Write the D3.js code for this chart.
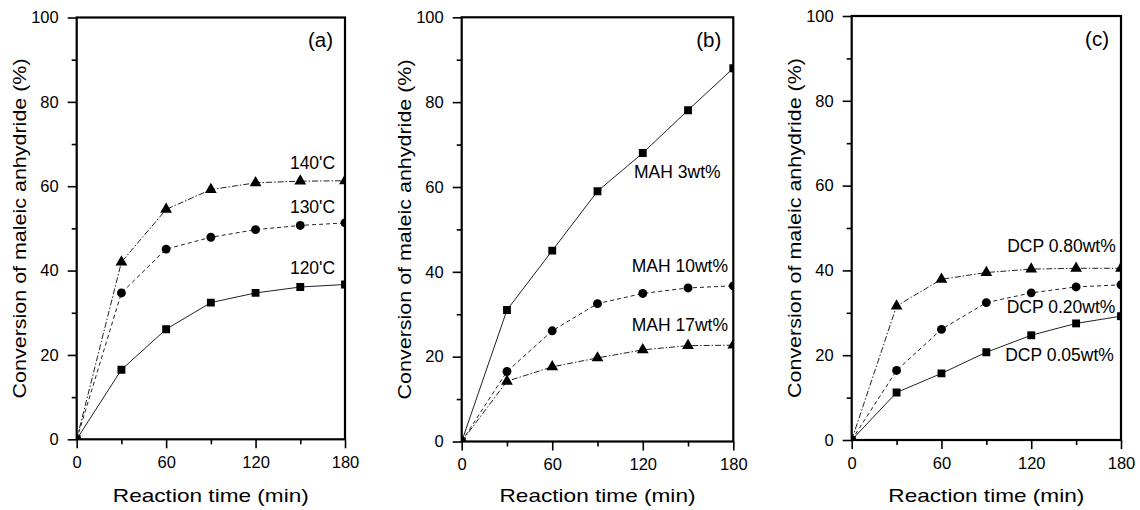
<!DOCTYPE html>
<html>
<head>
<meta charset="utf-8">
<script src="https://cdn.jsdelivr.net/npm/d3@7"></script>
<style>
  body { margin: 0; background: #fff; }
  text { font-family: "Liberation Sans", Arial, sans-serif; fill: #000; }
</style>
</head>
<body>
<svg id="chart" width="1140" height="510"></svg>
<script>
// reaction time (min)
var times = [0, 30, 60, 90, 120, 150, 180];

// (a) temperature series
var temp120 = [0, 16.5, 26.1, 32.4, 34.7, 36.1, 36.7];
var temp130 = [0, 34.7, 45.1, 47.9, 49.7, 50.7, 51.3];
var temp140 = [0, 42.0, 54.5, 59.2, 60.8, 61.2, 61.3];

// (b) MAH content series
var mah3  = [0, 31.0, 45.0, 59.0, 68.0, 78.1, 88.0];
var mah10 = [0, 16.5, 26.1, 32.5, 34.9, 36.2, 36.7];
var mah17 = [0, 14.2, 17.6, 19.7, 21.6, 22.6, 22.7];

// (c) DCP content series
var dcp005 = [0, 11.2, 15.7, 20.7, 24.7, 27.5, 29.2];
var dcp020 = [0, 16.4, 26.1, 32.4, 34.7, 36.1, 36.6];
var dcp080 = [0, 31.6, 37.9, 39.5, 40.3, 40.5, 40.5];

var xMajor = [0, 60, 120, 180];
var xMinor = [30, 90, 150];
var yMajor = [0, 20, 40, 60, 80, 100];
var yMinor = [10, 30, 50, 70, 90];

var xTitle = "Reaction time (min)";
var yTitle = "Conversion of maleic anhydride (%)";

// panel layout (pixels)
var panels = [
  {id: "a", tag: "(a)", left: 76.7, right: 345, top: 17.5, bottom: 439.3,
   series: [
     {vals: temp120, mark: "square", dash: null},
     {vals: temp130, mark: "circle", dash: "4,3"},
     {vals: temp140, mark: "triangle", dash: "6,2,1.5,2"}
   ],
   notes: [
     {text: "140'C", x: 158.2, y: 64.0},
     {text: "130'C", x: 158.2, y: 53.6},
     {text: "120'C", x: 158.2, y: 39.2}
   ]},
  {id: "b", tag: "(b)", left: 461.7, right: 733.3, top: 17.3, bottom: 441.5,
   series: [
     {vals: mah3, mark: "square", dash: null},
     {vals: mah10, mark: "circle", dash: "4,3"},
     {vals: mah17, mark: "triangle", dash: "6,2,1.5,2"}
   ],
   notes: [
     {text: "MAH 3wt%", x: 142.9, y: 62.0},
     {text: "MAH 10wt%", x: 144.6, y: 40.0},
     {text: "MAH 17wt%", x: 144.6, y: 26.1}
   ]},
  {id: "c", tag: "(c)", left: 851.7, right: 1121, top: 16, bottom: 440,
   series: [
     {vals: dcp005, mark: "square", dash: null},
     {vals: dcp020, mark: "circle", dash: "4,3"},
     {vals: dcp080, mark: "triangle", dash: "6,2,1.5,2"}
   ],
   notes: [
     {text: "DCP 0.80wt%", x: 140.2, y: 44.3},
     {text: "DCP 0.20wt%", x: 139.9, y: 29.9},
     {text: "DCP 0.05wt%", x: 138.9, y: 18.6}
   ]}
];

var symbols = {
  square: d3.symbol().type(d3.symbolSquare).size(62),
  circle: d3.symbol().type(d3.symbolCircle).size(62),
  triangle: d3.symbol().type(d3.symbolTriangle).size(60)
};

var svg = d3.select("#chart");

panels.forEach(function(p) {
  var x = d3.scaleLinear().domain([0, 180]).range([p.left, p.right]);
  var y = d3.scaleLinear().domain([0, 100]).range([p.bottom, p.top]);

  svg.append("clipPath").attr("id", "clip-" + p.id)
    .append("rect")
    .attr("x", p.left).attr("y", p.top)
    .attr("width", p.right - p.left).attr("height", p.bottom - p.top);

  var plot = svg.append("g").attr("clip-path", "url(#clip-" + p.id + ")");

  var line = d3.line()
    .x(function(d, i) { return x(times[i]); })
    .y(function(d) { return y(d); });

  p.series.forEach(function(s) {
    plot.append("path")
      .attr("d", line(s.vals))
      .attr("fill", "none")
      .attr("stroke", "#222")
      .attr("stroke-width", 1)
      .attr("stroke-dasharray", s.dash);

    plot.selectAll(null)
      .data(s.vals)
      .enter().append("path")
      .attr("d", symbols[s.mark])
      .attr("transform", function(d, i) { return "translate(" + x(times[i]) + "," + y(d) + ")"; })
      .attr("fill", "#000");
  });

  // axes
  var yAxis = svg.append("g").attr("transform", "translate(" + p.left + ",0)")
    .call(d3.axisLeft(y).tickValues(yMajor).tickSizeInner(9).tickSizeOuter(0).tickPadding(9));
  var yAxisMinor = svg.append("g").attr("transform", "translate(" + p.left + ",0)")
    .call(d3.axisLeft(y).tickValues(yMinor).tickSizeInner(5).tickSizeOuter(0).tickFormat(""));
  var xAxis = svg.append("g").attr("transform", "translate(0," + p.bottom + ")")
    .call(d3.axisBottom(x).tickValues(xMajor).tickSizeInner(9).tickSizeOuter(0).tickPadding(8));
  var xAxisMinor = svg.append("g").attr("transform", "translate(0," + p.bottom + ")")
    .call(d3.axisBottom(x).tickValues(xMinor).tickSizeInner(5).tickSizeOuter(0).tickFormat(""));

  [yAxis, yAxisMinor, xAxis, xAxisMinor].forEach(function(g) {
    g.select(".domain").remove();
    g.selectAll(".tick line").attr("stroke", "#000").attr("stroke-width", 1.6);
    g.selectAll(".tick text").style("font-size", "16.5px").attr("fill", "#000");
  });

  // frame
  svg.append("rect")
    .attr("x", p.left).attr("y", p.top)
    .attr("width", p.right - p.left).attr("height", p.bottom - p.top)
    .attr("fill", "none").attr("stroke", "#000").attr("stroke-width", 2.2);

  // titles
  svg.append("text")
    .attr("x", (p.left + p.right) / 2).attr("y", 501.5)
    .attr("text-anchor", "middle")
    .attr("textLength", 196)
    .attr("lengthAdjust", "spacingAndGlyphs")
    .style("font-size", "19px")
    .text(xTitle);

  svg.append("text")
    .attr("transform", "translate(" + (p.left - 51) + "," + ((p.top + p.bottom) / 2) + ") rotate(-90)")
    .attr("text-anchor", "middle")
    .attr("textLength", 340)
    .attr("lengthAdjust", "spacingAndGlyphs")
    .style("font-size", "19px")
    .text(yTitle);

  // panel tag
  svg.append("text")
    .attr("x", p.right - 12).attr("y", p.top + 29.5)
    .attr("text-anchor", "end")
    .style("font-size", "20.5px")
    .text(p.tag);

  // series labels
  p.notes.forEach(function(n) {
    svg.append("text")
      .attr("x", x(n.x)).attr("y", y(n.y))
      .attr("text-anchor", "middle")
      .style("font-size", "17.5px")
      .text(n.text);
  });
});
</script>
</body>
</html>
